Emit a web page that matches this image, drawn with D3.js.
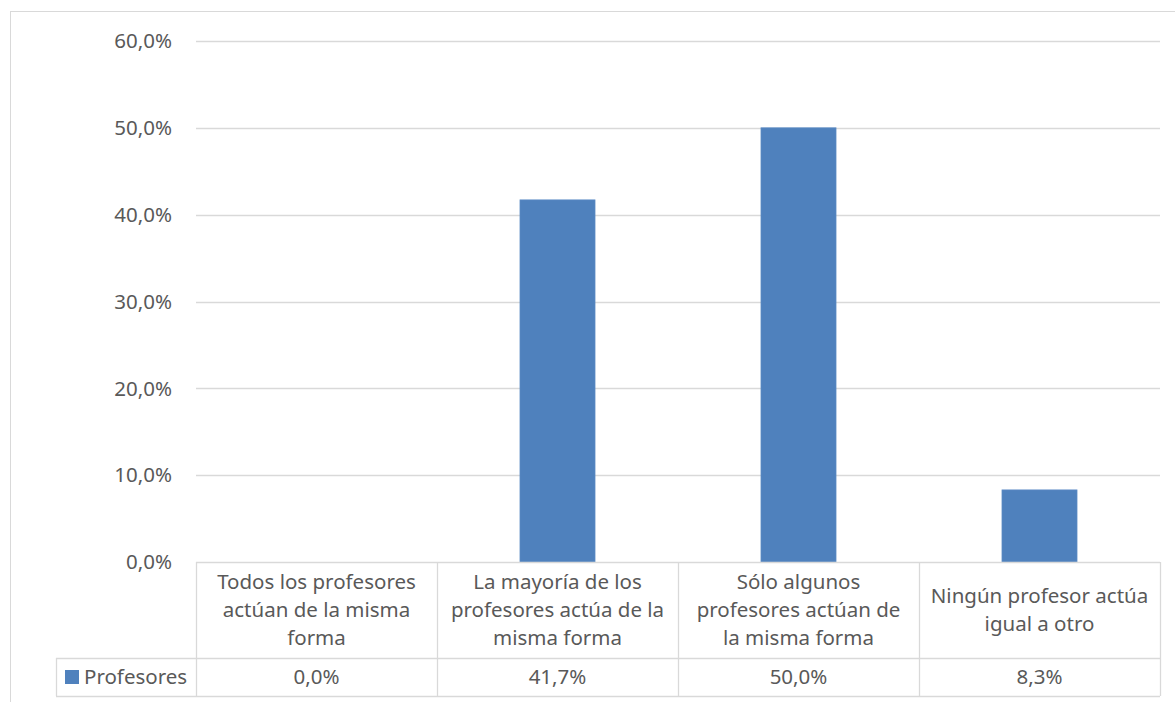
<!DOCTYPE html>
<html><head><meta charset="utf-8">
<script src="https://cdn.jsdelivr.net/npm/d3@7"></script>
<style>body{margin:0;background:#fff}svg{display:block}</style>
</head><body>
<script>
const categories = [
  ["Todos los profesores", "actúan de la misma", "forma"],
  ["La mayoría de los", "profesores actúa de la", "misma forma"],
  ["Sólo algunos", "profesores actúan de", "la misma forma"],
  ["Ningún profesor actúa", "igual a otro"]
];
const seriesName = "Profesores";
const values = [0.0, 41.7, 50.0, 8.3];
const tickValues = [0, 10, 20, 30, 40, 50, 60];

(function () {
const W = 1175, H = 702;
const font = "'Noto Sans', sans-serif";
const fs = 20.5;
const txt = "#595959", grid = "#d9d9d9", barColor = "#4f81bd";
const fmt = v => v.toFixed(1).replace(".", ",") + "%";

const svg = d3.select("body").append("svg").attr("width", W).attr("height", H);
svg.append("rect").attr("x", 10.5).attr("y", 11.5).attr("width", W + 10).attr("height", H + 10)
  .attr("fill", "none").attr("stroke", grid);

const pLeft = 196, pRight = 1160, pTop = 41, pBottom = 562;
const x = d3.scaleBand().domain(d3.range(categories.length)).range([pLeft, pRight]).paddingInner(0).paddingOuter(0);
const y = d3.scaleLinear().domain([0, 60]).range([pBottom, pTop]);

// gridlines
svg.append("g").selectAll("line").data(tickValues.filter(t => t > 0)).join("line")
  .attr("x1", pLeft).attr("x2", pRight).attr("y1", d => Math.round(y(d)) + 0.5).attr("y2", d => Math.round(y(d)) + 0.5)
  .attr("stroke", grid).attr("stroke-width", 1.3);

// y labels
svg.append("g").selectAll("text").data(tickValues).join("text")
  .attr("x", 172).attr("y", d => y(d)).attr("dy", "0.35em").attr("text-anchor", "end")
  .attr("font-family", font).attr("font-size", fs).attr("fill", txt).text(d => fmt(d));

// bars
const bw = 75;
svg.append("g").selectAll("rect").data(values).join("rect")
  .attr("x", (d, i) => x(i) + x.bandwidth() / 2 - bw / 2).attr("width", bw)
  .attr("y", d => y(d)).attr("height", d => y(0) - y(d))
  .attr("fill", barColor).attr("stroke", "#5b8ac4").attr("stroke-width", 0.8);

// data table
const rowSep = 658, tblBottom = 696, legLeft = 56;
const tg = svg.append("g").attr("stroke", grid).attr("stroke-width", 1.3).attr("fill", "none");
tg.append("line").attr("x1", pLeft).attr("x2", pRight).attr("y1", pBottom + 0.5).attr("y2", pBottom + 0.5);
tg.append("line").attr("x1", legLeft).attr("x2", pRight).attr("y1", rowSep + 0.5).attr("y2", rowSep + 0.5);
tg.append("line").attr("x1", legLeft).attr("x2", pRight).attr("y1", tblBottom + 0.5).attr("y2", tblBottom + 0.5);
tg.append("line").attr("x1", legLeft + 0.5).attr("x2", legLeft + 0.5).attr("y1", rowSep).attr("y2", tblBottom);
tg.selectAll("line.v").data(d3.range(categories.length + 1)).join("line").attr("class", "v")
  .attr("x1", i => Math.round(i < categories.length ? x(i) : pRight) + 0.5)
  .attr("x2", i => Math.round(i < categories.length ? x(i) : pRight) + 0.5)
  .attr("y1", pBottom).attr("y2", tblBottom);

// category labels
const catG = svg.append("g").attr("font-family", font).attr("font-size", fs).attr("fill", txt).attr("text-anchor", "middle");
categories.forEach((lines, i) => {
  const n = lines.length, lh = 28;
  const cy = (pBottom + rowSep) / 2;
  lines.forEach((l, j) => {
    catG.append("text").attr("x", x(i) + x.bandwidth() / 2)
      .attr("y", cy + (j - (n - 1) / 2) * lh).attr("dy", "0.35em").text(l);
  });
});
// values row
svg.append("g").selectAll("text").data(values).join("text")
  .attr("x", (d, i) => x(i) + x.bandwidth() / 2).attr("y", (rowSep + tblBottom) / 2).attr("dy", "0.35em")
  .attr("text-anchor", "middle").attr("font-family", font).attr("font-size", fs).attr("fill", txt).text(d => fmt(d));
// legend key
svg.append("rect").attr("x", 65).attr("y", 670).attr("width", 14).attr("height", 14).attr("fill", barColor);
svg.append("text").attr("x", 84).attr("y", (rowSep + tblBottom) / 2).attr("dy", "0.35em")
  .attr("font-family", font).attr("font-size", fs).attr("fill", txt).text(seriesName);
})();
</script>
</body></html>
